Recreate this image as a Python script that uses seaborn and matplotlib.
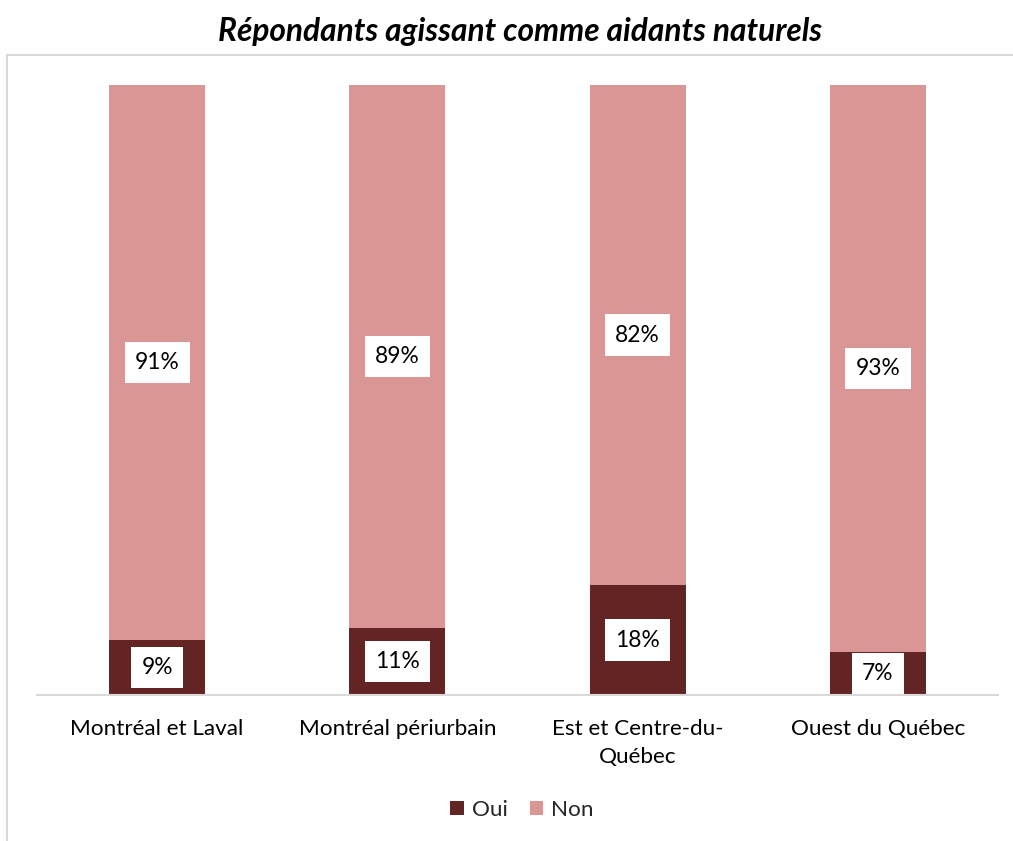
import matplotlib
matplotlib.use("Agg")
import matplotlib.pyplot as plt
import seaborn as sns
import pandas as pd
from matplotlib.patches import Patch, Rectangle

categories = ["Montréal et Laval", "Montréal périurbain", "Est et Centre-du-\nQuébec", "Ouest du Québec"]
oui = [9, 11, 18, 7]
non = [91, 89, 82, 93]
series_names = ["Oui", "Non"]
title = "Répondants agissant comme aidants naturels"

c_oui = "#632523"
c_non = "#D99694"

sns.set_theme(style="white")
plt.rcParams["font.family"] = ["Lato", "DejaVu Sans"]

W, H = 1013, 841
fig = plt.figure(figsize=(W / 100, H / 100), dpi=100)
ax = fig.add_axes([37 / W, (H - 695) / H, (998 - 37) / W, (695 - 85) / H])

df = pd.DataFrame({"cat": categories, "oui": oui, "non": non})
df["total"] = df["oui"] + df["non"]

sns.barplot(data=df, x="cat", y="total", color=c_non, width=0.40, ax=ax,
            saturation=1, linewidth=0)
sns.barplot(data=df, x="cat", y="oui", color=c_oui, width=0.40, ax=ax,
            saturation=1, linewidth=0)

ax.set_ylim(0, 100)
ax.set_xlim(-0.5, 3.5)
ax.set_xlabel("")
ax.set_ylabel("")
ax.set_yticks([])
for s in ["top", "right", "left"]:
    ax.spines[s].set_visible(False)
ax.spines["bottom"].set_color("#D9D9D9")
ax.spines["bottom"].set_linewidth(1.5)
ax.tick_params(axis="x", length=0, pad=17, labelsize=16.2, colors="#000000")
for lbl in ax.get_xticklabels():
    lbl.set_linespacing(1.55)

fs = 16.4
box = dict(boxstyle="square,pad=0.45", facecolor="white", edgecolor="none")
for i in range(len(categories)):
    ax.text(i, oui[i] / 2, f"{oui[i]}%", ha="center", va="center",
            fontsize=fs, color="black", bbox=box)
    ax.text(i, oui[i] + non[i] / 2, f"{non[i]}%", ha="center", va="center",
            fontsize=fs, color="black", bbox=box)

fig.text(520 / W, 1 - 31 / H, title, ha="center", va="center",
         fontsize=22.8, fontweight="bold", fontstyle="italic", color="black")

# chart frame
fig.patches.append(Rectangle((7 / W, -0.1), 1.2, (H - 55) / H + 0.1,
                             transform=fig.transFigure, fill=False,
                             edgecolor="#D9D9D9", linewidth=1.5))

handles = [Patch(facecolor=c_oui, edgecolor="none"), Patch(facecolor=c_non, edgecolor="none")]
fig.legend(handles, series_names, loc="center", bbox_to_anchor=(522 / W, 1 - 810 / H),
           ncol=2, frameon=False, fontsize=16.2, handlelength=0.6, handleheight=0.6,
           handletextpad=0.35, columnspacing=1.0)

fig.savefig("out.png", dpi=100)
